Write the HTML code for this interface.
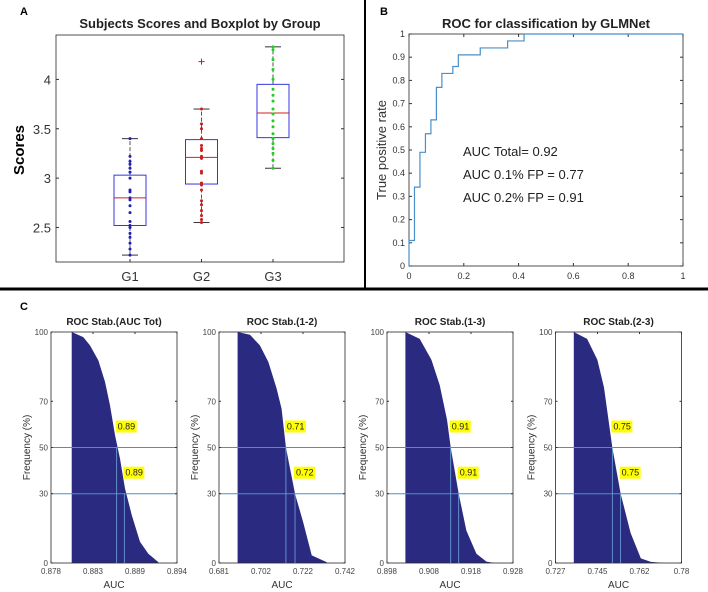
<!DOCTYPE html>
<html><head><meta charset="utf-8"><style>
body{margin:0;background:#fff;}
svg{display:block;font-family:"Liberation Sans",Arial,sans-serif;}
</style></head><body>
<svg id="fig" width="708" height="592" viewBox="0 0 708 592">
<rect x="0" y="0" width="708" height="592" fill="#fff"/>
<line x1="0" y1="289" x2="708" y2="289" stroke="#000" stroke-width="3"/>
<line x1="365" y1="0" x2="365" y2="289" stroke="#000" stroke-width="2"/>
<text x="20" y="15" font-size="11" font-weight="bold">A</text>
<text x="380" y="15" font-size="11" font-weight="bold">B</text>
<text x="20" y="310" font-size="11" font-weight="bold">C</text>
<g id="pa"></g>
<g id="pb"></g>
<g id="pc"></g>
</svg>
<script>
// Panel A data
const groups=["G1","G2","G3"];
const g1Scores=[2.22,2.28,2.34,2.40,2.44,2.50,2.52,2.56,2.65,2.72,2.78,2.80,2.86,2.88,3.00,3.06,3.10,3.14,3.17,3.22,3.40];
const g2Scores=[2.55,2.58,2.62,2.67,2.73,2.77,2.88,2.93,2.95,3.05,3.07,3.20,3.22,3.28,3.30,3.33,3.40,3.50,3.55,3.70];
const g3Scores=[3.10,3.18,3.25,3.30,3.35,3.40,3.45,3.52,3.58,3.65,3.70,3.78,3.84,3.90,4.00,4.10,4.20,4.30,4.33];
const boxQ1=[2.52,2.94,3.41];
const boxMed=[2.80,3.21,3.66];
const boxQ3=[3.03,3.39,3.95];
const whiskLo=[2.22,2.55,3.10];
const whiskHi=[3.40,3.70,4.33];
const outliers=[[1,4.18]];
const scoreTicks=[2.5,3,3.5,4];
// Panel B data
const rocFpr=[0,0,0.02,0.02,0.04,0.04,0.06,0.06,0.08,0.08,0.10,0.10,0.12,0.12,0.16,0.16,0.18,0.18,0.26,0.26,0.36,0.36,0.42,0.42,1];
const rocTpr=[0,0.11,0.11,0.34,0.34,0.49,0.49,0.57,0.57,0.63,0.63,0.77,0.77,0.83,0.83,0.86,0.86,0.91,0.91,0.94,0.94,0.97,0.97,1,1];
const rocXTicks=[0,0.2,0.4,0.6,0.8,1];
const rocYTicks=[0,0.1,0.2,0.3,0.4,0.5,0.6,0.7,0.8,0.9,1];
const aucLines=["AUC Total= 0.92","AUC 0.1% FP = 0.77","AUC 0.2% FP = 0.91"];
// Panel C data
const stabTitles=["ROC Stab.(AUC Tot)","ROC Stab.(1-2)","ROC Stab.(1-3)","ROC Stab.(2-3)"];
const stabXMin=[0.878,0.681,0.898,0.727];
const stabXMax=[0.894,0.742,0.928,0.780];
const stabTickLabels=[["0.878","0.883","0.889","0.894"],["0.681","0.702","0.722","0.742"],["0.898","0.908","0.918","0.928"],["0.727","0.745","0.762","0.78"]];
const stabAuc=[
 [0.88063,0.88210,0.88295,0.88401,0.88486,0.88549,0.88613,0.88676,0.88740,0.88825,0.88930,0.89036,0.89163],
 [0.6900,0.6960,0.7008,0.7049,0.7089,0.7113,0.7134,0.7178,0.7218,0.7259,0.7331],
 [0.90238,0.90579,0.90857,0.91055,0.91229,0.91317,0.91507,0.91690,0.91929,0.92167,0.92364],
 [0.7347,0.7403,0.7446,0.7474,0.7509,0.7544,0.7586,0.7629,0.7671,0.7727]];
const stabFreq=[
 [100,97.8,94.2,87.7,78.4,68.3,55.3,45.2,32.2,20.8,9.2,4.0,0.4],
 [100,98.8,94.2,87.0,75.5,66.8,50,30,17.5,3.3,0.4],
 [100,97,88,77,62,50,30,14,4,0.6,0],
 [100,97,88,76,50,30,13,2,0.5,0]];
const stabCross50=[0.88634,0.7134,0.91317,0.7509];
const stabCross30=[0.88731,0.7178,0.91507,0.7544];
const stabLab50=["0.89","0.71","0.91","0.75"];
const stabLab30=["0.89","0.72","0.91","0.75"];
const freqTicks=[0,30,50,70,100];

const NS="http://www.w3.org/2000/svg";
function mk(parent,tag,attrs,text){const e=document.createElementNS(NS,tag);for(const k in attrs)e.setAttribute(k,attrs[k]);if(text!==undefined)e.textContent=text;parent.appendChild(e);return e;}

// ---- Panel A ----
(function(){
const pa=document.getElementById('pa');
const L=56,R=344,T=35,B=262,yMin=2.15,yMax=4.45;
const y=v=>B-(v-yMin)/(yMax-yMin)*(B-T);
const x=i=>130+i*71.5;
let el=mk(pa,'rect',{x:L,y:T,width:R-L,height:B-T,fill:'none',stroke:'#262626','stroke-width':0.8});


el=mk(pa,'text',{x:200,y:28,'font-size':13,'font-weight':'bold','text-anchor':'middle',fill:'#222'},'Subjects Scores and Boxplot by Group');


el=mk(pa,'text',{x:0,y:0,'font-size':15,'font-weight':'bold','text-anchor':'middle',transform:'translate(24,150) rotate(-90)'},'Scores');


scoreTicks.forEach(t=>{
 el=mk(pa,'text',{x:51,y:y(t)+5,'font-size':13,'text-anchor':'end',fill:'#333'},String(t));
 
 
 mk(pa,'line',{x1:L,y1:y(t),x2:L+3,y2:y(t),stroke:'#333'});
 mk(pa,'line',{x1:R,y1:y(t),x2:R-3,y2:y(t),stroke:'#333'});
});
const cols=['#1f1fb4','#c81e1e','#22cc22'];
const data=[g1Scores,g2Scores,g3Scores];
groups.forEach((g,i)=>{
 const cx=x(i);
 el=mk(pa,'text',{x:cx,y:281,'font-size':13,'text-anchor':'middle',fill:'#333'},g);
 
 
 mk(pa,'line',{x1:cx,y1:B,x2:cx,y2:B-3,stroke:'#333'});
 el=mk(pa,'line',{x1:cx,y1:y(whiskLo[i]),x2:cx,y2:y(boxQ1[i]),stroke:'#555','stroke-dasharray':'4,2'});
 
 
 el=mk(pa,'line',{x1:cx,y1:y(boxQ3[i]),x2:cx,y2:y(whiskHi[i]),stroke:'#555','stroke-dasharray':'4,2'});
 
 
 mk(pa,'line',{x1:cx-8,y1:y(whiskLo[i]),x2:cx+8,y2:y(whiskLo[i]),stroke:'#333'});
 mk(pa,'line',{x1:cx-8,y1:y(whiskHi[i]),x2:cx+8,y2:y(whiskHi[i]),stroke:'#333'});
 el=mk(pa,'rect',{x:cx-16,y:y(boxQ3[i]),width:32,height:y(boxQ1[i])-y(boxQ3[i]),fill:'none',stroke:'#3535e0'});
 
 
 el=mk(pa,'line',{x1:cx-16,y1:y(boxMed[i]),x2:cx+16,y2:y(boxMed[i]),stroke:'#d02020'});
 
 
 data[i].forEach(v=>{
  el=mk(pa,'circle',{cx:cx,cy:y(v),r:1.5,fill:cols[i]});
  
  
 });
});
outliers.forEach(o=>{
 const cx=x(o[0]),cy=y(o[1]);
 el=mk(pa,'path',{d:`M${cx-3},${cy}H${cx+3}M${cx},${cy-3}V${cy+3}`,stroke:'#c81e1e'});
 
 
});
})();

// ---- Panel B ----
(function(){
const pb=document.getElementById('pb');
const L=409,R=683,T=34,B=266;
const x=v=>L+v*(R-L), y=v=>B-v*(B-T);
let el=mk(pb,'rect',{x:L,y:T,width:R-L,height:B-T,fill:'none',stroke:'#262626','stroke-width':0.8});


el=mk(pb,'text',{x:546,y:28,'font-size':13,'font-weight':'bold','text-anchor':'middle',fill:'#222'},'ROC for classification by GLMNet');


el=mk(pb,'text',{x:0,y:0,'font-size':13,'text-anchor':'middle',fill:'#333',transform:'translate(386,150) rotate(-90)'},'True positive rate');


rocYTicks.forEach(t=>{
 el=mk(pb,'text',{x:405,y:y(t)+3,'font-size':9,'text-anchor':'end',fill:'#333'},String(t));
 
 
 mk(pb,'line',{x1:L,y1:y(t),x2:L+3,y2:y(t),stroke:'#333'});
 mk(pb,'line',{x1:R,y1:y(t),x2:R-3,y2:y(t),stroke:'#333'});
});
rocXTicks.forEach(t=>{
 el=mk(pb,'text',{x:x(t),y:279,'font-size':9,'text-anchor':'middle',fill:'#333'},String(t));
 
 
 mk(pb,'line',{x1:x(t),y1:B,x2:x(t),y2:B-3,stroke:'#333'});
 mk(pb,'line',{x1:x(t),y1:T,x2:x(t),y2:T+3,stroke:'#333'});
});
let d=rocFpr.map((f,i)=>(i?'L':'M')+x(f)+','+y(rocTpr[i])).join('');
el=mk(pb,'path',{d:d,fill:'none',stroke:'#4a8fc9','stroke-width':1.2});


aucLines.forEach((s,i)=>{
 el=mk(pb,'text',{x:463,y:156+i*23,'font-size':13,fill:'#222'},s);
 
 
});
})();

// ---- Panel C ----
(function(){
const pc=document.getElementById('pc');
const lefts=[51,219,387,555.5];
const W=126,T=332,B=563;
const y=v=>B-v/100*(B-T);
stabTitles.forEach((title,k)=>{
 const L=lefts[k],R=L+W;
 const x=v=>L+(v-stabXMin[k])/(stabXMax[k]-stabXMin[k])*W;
 const g=mk(pc,'g',{});
 
 
 let pts=stabAuc[k].map((a,i)=>x(a)+','+y(stabFreq[k][i]));
 let d='M'+x(stabAuc[k][0])+','+B+'L'+pts.join('L')+'L'+x(stabAuc[k][stabAuc[k].length-1])+','+B+'Z';
 let el=mk(g,'path',{d:d,fill:'#2a2a80'});
 
 
 el=mk(g,'rect',{x:L,y:T,width:W,height:B-T,fill:'none',stroke:'#262626','stroke-width':0.8});
 
 
 [50,30].forEach(lv=>{
  el=mk(g,'line',{x1:L,y1:y(lv),x2:R,y2:y(lv),stroke:'#4a8fc9','stroke-width':1});
  
  
 });
 [[stabCross50[k],50,stabLab50[k]],[stabCross30[k],30,stabLab30[k]]].forEach(c=>{
  const cx=x(c[0]);
  el=mk(g,'line',{x1:cx,y1:B,x2:cx,y2:y(c[1]),stroke:'#6fa8dc','stroke-width':0.8});
  
  
  el=mk(g,'rect',{x:cx-1,y:y(c[1])-27,width:21,height:12,fill:'#ffff00'});
  
  
  el=mk(g,'text',{x:cx+1,y:y(c[1])-18,'font-size':9,fill:'#222'},c[2]);
  
  
 });
 el=mk(g,'text',{x:L+W/2,y:325,'font-size':10,'font-weight':'bold','text-anchor':'middle',fill:'#222'},title);
 
 
 freqTicks.forEach(t=>{
  el=mk(g,'text',{x:L-3,y:y(t)+3,'font-size':8,'text-anchor':'end',fill:'#444'},String(t));
  
  
  mk(g,'line',{x1:L,y1:y(t),x2:L+2,y2:y(t),stroke:'#333'});
  mk(g,'line',{x1:R,y1:y(t),x2:R-2,y2:y(t),stroke:'#333'});
 });
 stabTickLabels[k].forEach((s,i)=>{
  const tx=L+i*W/3;
  el=mk(g,'text',{x:tx,y:574,'font-size':8,'text-anchor':'middle',fill:'#444'},s);
  
  
  mk(g,'line',{x1:tx,y1:B,x2:tx,y2:B-2,stroke:'#333'});
  mk(g,'line',{x1:tx,y1:T,x2:tx,y2:T+2,stroke:'#333'});
 });
 el=mk(g,'text',{x:L+W/2,y:588,'font-size':10,'text-anchor':'middle',fill:'#333'},'AUC');
 
 
 el=mk(g,'text',{x:0,y:0,'font-size':10,'text-anchor':'middle',fill:'#333',transform:`translate(${L-21},${(T+B)/2}) rotate(-90)`},'Frequency (%)');
 
 
});
})();
</script>
</body></html>
